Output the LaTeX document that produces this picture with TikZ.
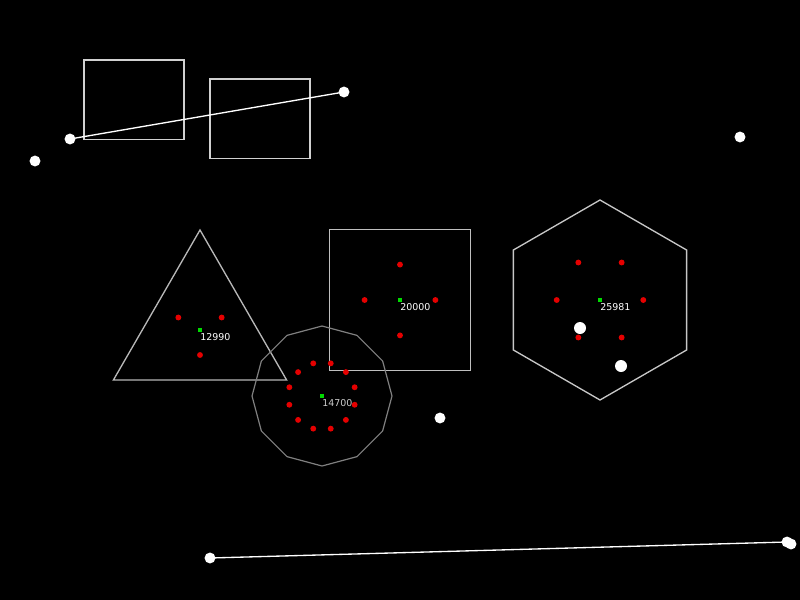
\documentclass[tikz,border=0pt]{standalone}
\usepackage{fontspec}
\setmainfont{DejaVu Sans}
\begin{document}
\begin{tikzpicture}[x=0.75pt,y=-0.75pt,
  wdot/.style={circle,fill=white,draw=none,minimum size=8.2pt,inner sep=0pt},
  rdot/.style={circle,fill=red!90!black,draw=none,minimum size=4.4pt,inner sep=0pt},
  gdot/.style={rectangle,fill=green!85!black,draw=none,minimum size=3.6pt,inner sep=0pt},
  lbl/.style={anchor=west,inner sep=0pt,font=\fontsize{7.1pt}{8pt}\selectfont},
  edge/.style={line width=1pt},
  shapeline/.style={line width=1pt}]
\fill[black] (0,0) rectangle (800,600);
\useasboundingbox (0,0) rectangle (800,600);

% top rectangles
\draw[shapeline,draw=white!82!black] (84,60) rectangle (184,139.5);
\draw[shapeline,draw=white!82!black] (210,79) rectangle (310,158.5);

% triangle
\draw[shapeline,draw=white!72!black] (200,230) -- (113.4,380) -- (286.6,380) -- cycle;
% square
\draw[shapeline,draw=white!75!black] (329.3,229.3) rectangle (470.7,370.7);
% hexagon
\draw[shapeline,draw=white!78!black] (600,200) -- (686.6,250) -- (686.6,350) -- (600,400) -- (513.4,350) -- (513.4,250) -- cycle;
% dodecagon
\draw[line width=0.9pt,draw=white!50!black]
  (322,326) \foreach \k in {1,...,11}{ -- ({322+70*cos(90+30*\k)},{396-70*sin(90+30*\k)}) } -- cycle;

% centres
\node[gdot] (ct) at (200,330) {};
\node[gdot] (cs) at (400,300) {};
\node[gdot] (ch) at (600,300) {};
\node[gdot] (cd) at (322,396) {};

% labels
\node[lbl,text=white] (lt) at (200,337.5) {12990};
\node[lbl,text=white] (ls) at (400,307.5) {20000};
\node[lbl,text=white] (lh) at (600,307.5) {25981};
\node[lbl,text=white!80!black] (ld) at (322,403.5) {14700};

% red dots
\foreach \a [count=\i] in {270,30,150}
  \node[rdot] (rt\i) at ({200+25*cos(\a)},{330-25*sin(\a)}) {};
\foreach \a [count=\i] in {0,90,180,270}
  \node[rdot] (rs\i) at ({400+35.4*cos(\a)},{300-35.4*sin(\a)}) {};
\foreach \a [count=\i] in {0,60,120,180,240,300}
  \node[rdot] (rh\i) at ({600+43.3*cos(\a)},{300-43.3*sin(\a)}) {};
\foreach \k in {0,...,11}
  \node[rdot] (rd\k) at ({322+33.8*cos(15+30*\k)},{396-33.8*sin(15+30*\k)}) {};

% white dots
\node[wdot] (p1) at (70,139) {};
\node[wdot] (p2) at (344,92) {};
\node[wdot] (p0) at (35,161) {};
\node[wdot] (p3) at (740,137) {};
\node[wdot,minimum size=9pt] (p4) at (580,328) {};
\node[wdot,minimum size=9pt] (p5) at (621,366) {};
\node[wdot] (p6) at (440,418) {};
\node[wdot] (q1) at (210,558) {};
\node[wdot] (q2) at (787,542) {};
\node[wdot] (q3) at (791,544) {};

% connectors
\draw[edge,white] (p1.center) -- (p2.center);
\draw[edge,white] (q1.center) -- (q2.center);
\end{tikzpicture}
\end{document}
